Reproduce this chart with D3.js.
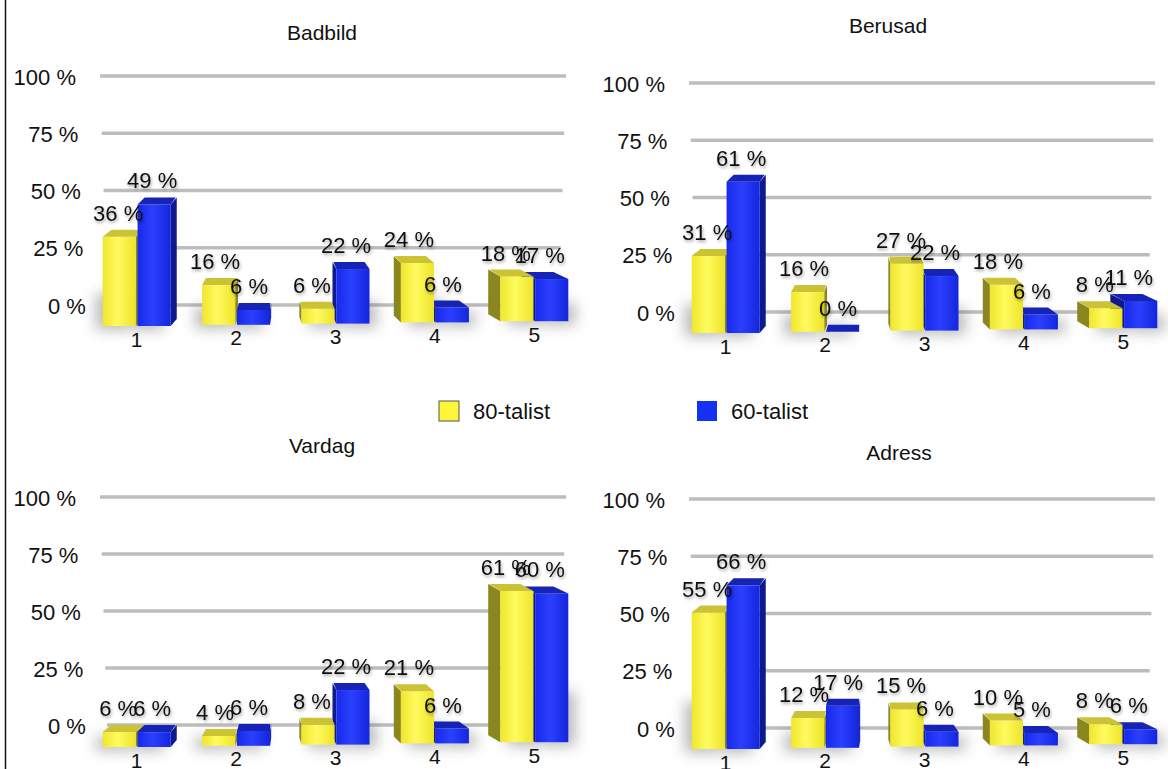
<!DOCTYPE html>
<html><head><meta charset="utf-8">
<script src="https://cdn.jsdelivr.net/npm/d3@7"></script>
<style>
html,body{margin:0;padding:0;background:#fff;}
svg{display:block;font-family:"Liberation Sans",Arial,Helvetica,sans-serif;}
</style></head>
<body>
<svg id="chart" width="1168" height="769"></svg>
<script>
const categories = ["1","2","3","4","5"];
const seriesNames = ["80-talist","60-talist"];
const yTicks = [0,25,50,75,100];
const tickLabels = ["0 %","25 %","50 %","75 %","100 %"];
const titles = ["Badbild","Berusad","Vardag","Adress"];
const badbild80 = [36,16,6,24,18];
const badbild60 = [49,6,22,6,17];
const berusad80 = [31,16,27,18,8];
const berusad60 = [61,0,22,6,11];
const vardag80 = [6,4,8,21,61];
const vardag60 = [6,6,22,6,60];
const adress80 = [55,12,15,10,8];
const adress60 = [66,17,6,5,6];

const panelData = [
  [badbild80,badbild60],
  [berusad80,berusad60],
  [vardag80,vardag60],
  [adress80,adress60]
];
// layout (positions only)
const panels = [
  {left:100, top:76, zero:305, base:326, tx:322, ty:32},
  {left:689, top:83, zero:312, base:333, tx:888, ty:25},
  {left:100, top:497, zero:725, base:747, tx:322, ty:445},
  {left:689, top:499, zero:728, base:749, tx:899, ty:452}
];

const svg = d3.select("#chart");
const defs = svg.append("defs");
function grad(id, stops){
  const g = defs.append("linearGradient").attr("id",id).attr("x1","0").attr("x2","1").attr("y1","0").attr("y2","0");
  stops.forEach(s=>g.append("stop").attr("offset",s[0]).attr("stop-color",s[1]));
}
grad("gY",[[0,"#efe62c"],[0.45,"#fffb5e"],[1,"#ede42a"]]);
grad("gB",[[0,"#1729ea"],[0.45,"#2b40ff"],[1,"#1425dc"]]);
const sh = defs.append("filter").attr("id","shadow").attr("x","-50%").attr("y","-50%").attr("width","200%").attr("height","200%");
sh.append("feGaussianBlur").attr("stdDeviation",7);
const ts = defs.append("filter").attr("id","tshadow").attr("x","-20%").attr("y","-30%").attr("width","140%").attr("height","170%");
ts.append("feDropShadow").attr("dx",1).attr("dy",2).attr("stdDeviation",1.8).attr("flood-color","#000").attr("flood-opacity",0.35);

const colors = [
  {front:"url(#gY)", top:"#cbc234", side:"#8b8720", legend:"#fdf63a"},
  {front:"url(#gB)", top:"#1523b6", side:"#0d1a8e", legend:"#1530f5"}
];

// left border
svg.append("line").attr("x1",5.5).attr("x2",5.5).attr("y1",0).attr("y2",769).attr("stroke","#111").attr("stroke-width",1.5);

panels.forEach((p,pi)=>{
  const g = svg.append("g");
  const width = 466;
  const yGrid = d3.scaleLinear().domain([0,100]).range([p.zero,p.top]);
  const yBar = d3.scaleLinear().domain([0,100]).range([0,248]);
  const x = d3.scaleBand().domain(categories).range([p.left-13, p.left-13+width+31]).paddingInner(0).paddingOuter(0);
  const xs = d3.scaleBand().domain(seriesNames).range([0,68]).paddingInner(0.05);

  g.append("text").attr("x",p.tx).attr("y",p.ty).attr("text-anchor","middle").attr("dominant-baseline","central")
    .attr("font-size",21).attr("fill","#111").text(titles[pi]);

  // gridlines
  yTicks.forEach((v,i)=>{
    const inset = (100-v)*0.07;
    g.append("line").attr("x1",p.left+inset).attr("x2",p.left+width-inset)
      .attr("y1",yGrid(v)).attr("y2",yGrid(v)).attr("stroke","#bdbdbd").attr("stroke-width",3.5);
    g.append("text").attr("x",p.left-24+inset*1.4).attr("y",yGrid(v)+1).attr("text-anchor","end")
      .attr("dominant-baseline","central").attr("font-size",22).attr("fill","#111").text(tickLabels[i]);
  });

  const vp = p.left + 175, k = 0.05, dy = 7;
  const bars = [];
  categories.forEach((c,ci)=>{
    const cx = x(c) + x.bandwidth()/2;
    const base = p.base - ci*1.2;
    seriesNames.forEach((s,si)=>{
      const v = panelData[pi][si][ci];
      const bx = cx - 34 + xs(s);
      const w = xs.bandwidth();
      const mid = bx + w/2;
      const dx = (vp - mid)*k;
      bars.push({ci,si,v,bx,w,dx,base,h:yBar(v)});
    });
  });
  // shadows
  const shg = g.append("g").attr("filter","url(#shadow)").attr("opacity",0.4);
  bars.forEach(b=>{
    const off = b.dx>0 ? -10 : 10;
    shg.append("rect").attr("x",b.bx+off*0.7).attr("y",b.base-b.h*0.3-6).attr("width",b.w).attr("height",b.h*0.3+10).attr("fill","#555");
  });
  const bg = g.append("g");
  const ordered = [];
  categories.forEach((c,ci)=>{
    const pair = bars.filter(b=>b.ci===ci);
    if (pair[0].dx<0) ordered.push(pair[1],pair[0]); else ordered.push(pair[0],pair[1]);
  });
  ordered.forEach(b=>{
    const col = colors[b.si];
    const yT = b.base - b.h;
    const sx = b.dx<0 ? b.bx : b.bx + b.w;
    if (Math.abs(b.dx)>0.8){
      bg.append("path").attr("d",`M${sx},${yT}L${sx},${b.base}L${sx+b.dx},${b.base-dy}L${sx+b.dx},${yT-dy}Z`).attr("fill",col.side);
    }
    bg.append("rect").attr("x",b.bx).attr("y",yT).attr("width",b.w).attr("height",Math.max(b.h,0.01)).attr("fill",col.front);
    bg.append("path").attr("d",`M${b.bx},${yT}L${b.bx+b.w},${yT}L${b.bx+b.w+b.dx-1},${yT-dy}L${b.bx+b.dx+1},${yT-dy}Z`).attr("fill",col.top);
  });
  // value labels
  const lg = g.append("g").attr("filter","url(#tshadow)");
  bars.forEach(b=>{
    const yT = b.base - b.h - dy;
    lg.append("text").attr("x",b.bx+b.w/2-5+b.dx*0.5).attr("y",yT-9).attr("text-anchor","middle")
      .attr("font-size",22).attr("fill","#111").text(b.v+" %");
  });
  // category labels
  categories.forEach((c,ci)=>{
    const cx = x(c) + x.bandwidth()/2;
    g.append("text").attr("x",cx).attr("y",p.base+13-ci*1.2).attr("text-anchor","middle")
      .attr("dominant-baseline","central").attr("font-size",21).attr("fill","#111").text(c);
  });
});

// legend
const legend = svg.append("g");
const legendX = d3.scaleOrdinal().domain(seriesNames).range([439,697]);
seriesNames.forEach((s,i)=>{
  const lx = legendX(s);
  legend.append("rect").attr("x",lx).attr("y",401).attr("width",20).attr("height",20)
    .attr("fill",colors[i].legend).attr("stroke",i===0?"#555":"none").attr("stroke-width",1);
  legend.append("text").attr("x",lx+34).attr("y",411).attr("dominant-baseline","central")
    .attr("font-size",22).attr("fill","#111").text(s);
});
</script>
</body></html>
